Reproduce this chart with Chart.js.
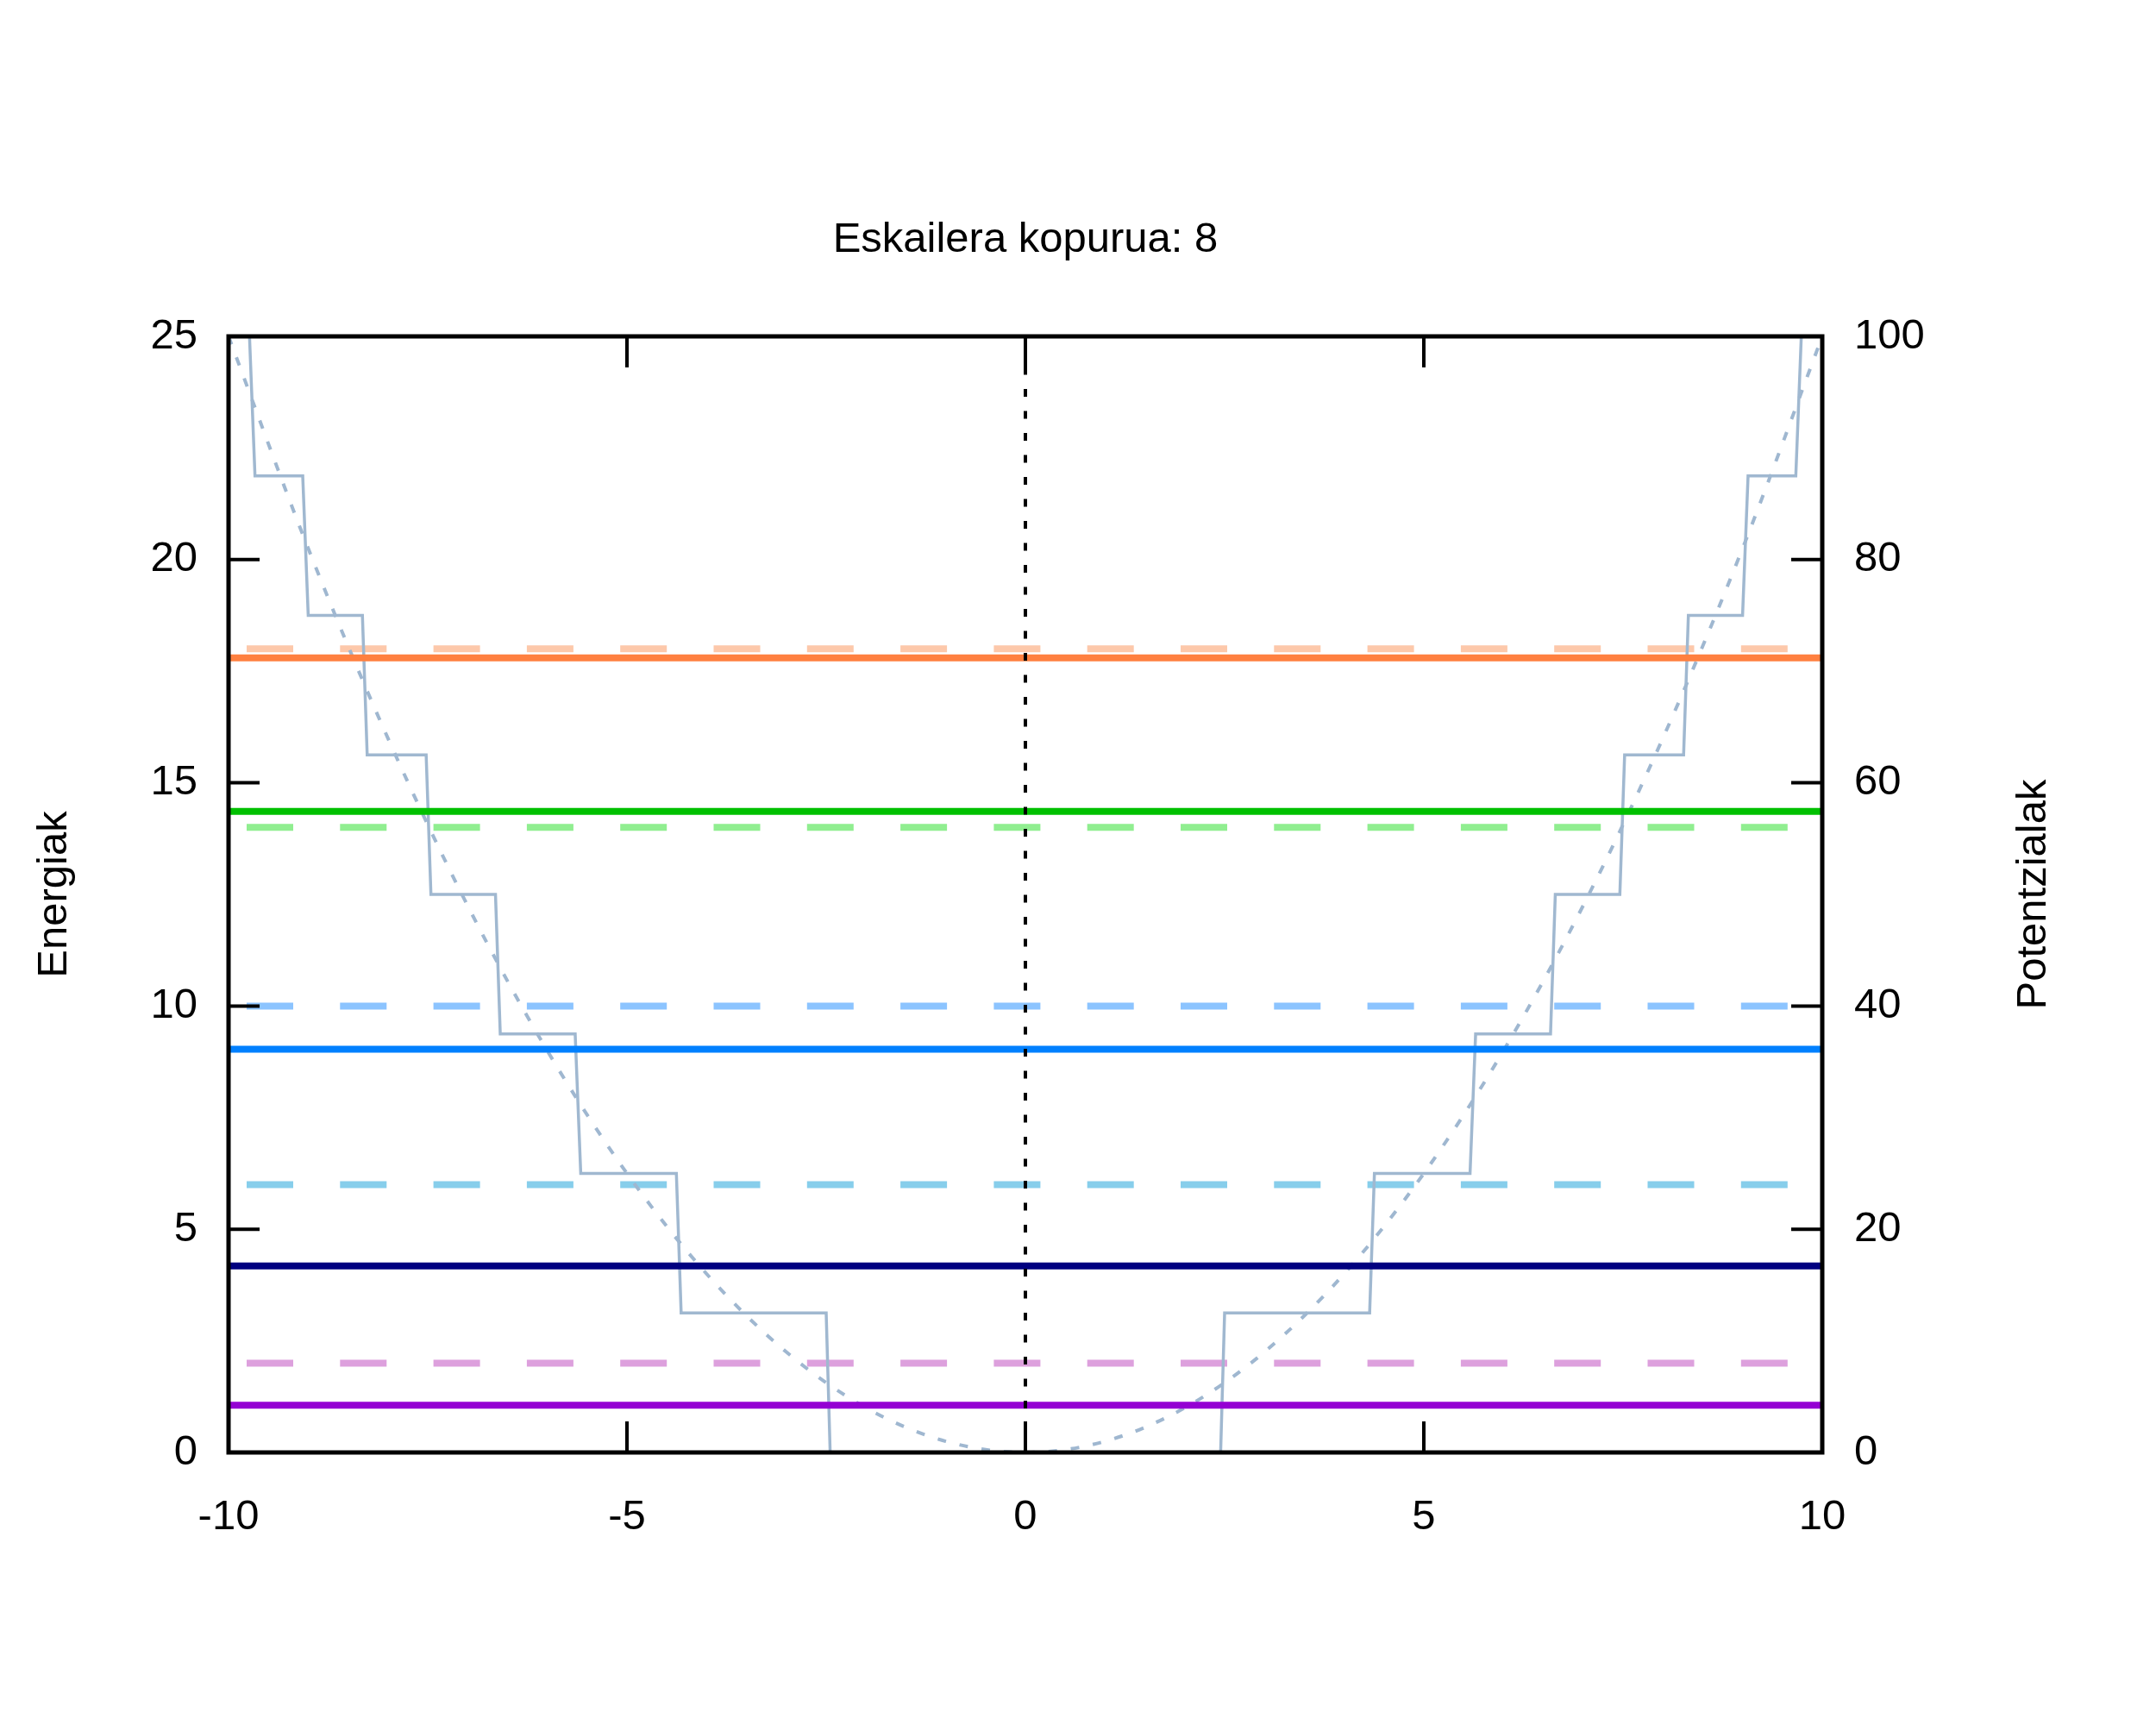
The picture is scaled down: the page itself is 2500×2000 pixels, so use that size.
<!DOCTYPE html>
<html>
<head>
<meta charset="utf-8">
<script src="https://cdn.jsdelivr.net/npm/chart.js@4.4.1/dist/chart.umd.min.js"></script>
<style>
  html, body { margin: 0; padding: 0; background: #ffffff; }
  #wrap { width: 2500px; height: 2000px; }
</style>
</head>
<body>
<div id="wrap"><canvas id="c" width="2500" height="2000"></canvas></div>
<script>
// ---- data ----
const titleText = 'Eskailera kopurua: 8';
const xTitle = '';
const yTitle = 'Energiak';
const y2Title = 'Potentzialak';

// numeric eigen-energies (solid lines)
const solidEnergies = [1.06, 4.18, 9.03, 14.36, 17.80];
const solidColors = ['#9400d3', '#000080', '#0080ff', '#00c000', '#ff8040'];
// analytic energies (dashed lines)
const dashedEnergies = [2, 6, 10, 14, 18];
const dashedColors = ['#dda0dd', '#87ceeb', '#8cc4ff', '#90ee90', '#fdc8aa'];

// staircase potential: levels and |x| where each higher level ends / lower level begins
const stairLevels = [100, 87.5, 75, 62.5, 50, 37.5, 25, 12.5, 0];
const stairEdgeHigh = [9.737, 9.069, 8.32, 7.52, 6.65, 5.65, 4.38, 2.50];
const stairEdgeLow  = [9.668, 9.00, 8.26, 7.46, 6.59, 5.58, 4.32, 2.45];

// smooth potential (dotted curve), read on the right axis
const potX = [-10, -9, -8, -7, -6, -5, -4, -3, -2, -1, 0, 1, 2, 3, 4, 5, 6, 7, 8, 9, 10];
const potY = [100, 81, 64, 49, 36, 25, 16, 9, 4, 1, 0, 1, 4, 9, 16, 25, 36, 49, 64, 81, 100];

const xTicks = [-10, -5, 0, 5, 10];
const yTicks = [0, 5, 10, 15, 20, 25];
const y2Ticks = [0, 20, 40, 60, 80, 100];

// ---- build datasets ----
const FONT = "'Liberation Sans', Arial, Helvetica, sans-serif";
Chart.defaults.font.family = FONT;
Chart.defaults.color = '#000000';

const stairPts = [{x: -10, y: stairLevels[0]}];
for (let i = 0; i < stairEdgeHigh.length; i++) {
  stairPts.push({x: -stairEdgeHigh[i], y: stairLevels[i]});
  stairPts.push({x: -stairEdgeLow[i], y: stairLevels[i + 1]});
}
for (let i = stairEdgeHigh.length - 1; i >= 0; i--) {
  stairPts.push({x: stairEdgeLow[i], y: stairLevels[i + 1]});
  stairPts.push({x: stairEdgeHigh[i], y: stairLevels[i]});
}
stairPts.push({x: 10, y: stairLevels[0]});

const potPts = potX.map((x, i) => ({x: x, y: potY[i]}));

const datasets = [];
// first in array = drawn on top
datasets.push({
  data: [{x: 0, y: 0}, {x: 0, y: 25}],
  borderColor: '#000000', borderWidth: 4, borderDash: [9, 16.5],
  yAxisID: 'y'
});
for (let i = solidEnergies.length - 1; i >= 0; i--) {
  datasets.push({
    data: [{x: -10, y: solidEnergies[i]}, {x: 10, y: solidEnergies[i]}],
    borderColor: solidColors[i], borderWidth: 8, yAxisID: 'y'
  });
}
datasets.push({
  data: potPts, borderColor: '#9fb7d0', borderWidth: 4, borderDash: [10, 16],
  cubicInterpolationMode: 'monotone', yAxisID: 'y2'
});
datasets.push({
  data: stairPts, borderColor: '#a0b8d0', borderWidth: 3.5, yAxisID: 'y2'
});
for (let i = dashedEnergies.length - 1; i >= 0; i--) {
  datasets.push({
    data: [{x: -10, y: dashedEnergies[i]}, {x: 10, y: dashedEnergies[i]}],
    borderColor: dashedColors[i], borderWidth: 8,
    borderDash: [54, 54.3], borderDashOffset: 87.3, yAxisID: 'y'
  });
}
datasets.forEach(d => { d.showLine = true; d.pointRadius = 0; d.pointHoverRadius = 0; d.fill = false; });

// ---- frame, inward ticks, right title ----
const framePlugin = {
  id: 'frame',
  afterDatasetsDraw(chart) {
    const ctx = chart.ctx, a = chart.chartArea;
    const sx = chart.scales.x, sy = chart.scales.y, sy2 = chart.scales.y2;
    const TL = 36;
    ctx.save();
    ctx.strokeStyle = '#000000';
    ctx.lineWidth = 4;
    ctx.beginPath();
    xTicks.forEach(v => {
      if (v === xTicks[0] || v === xTicks[xTicks.length - 1]) return;
      const p = sx.getPixelForValue(v);
      ctx.moveTo(p, a.bottom); ctx.lineTo(p, a.bottom - TL);
      ctx.moveTo(p, a.top); ctx.lineTo(p, a.top + TL);
    });
    yTicks.forEach(v => {
      if (v === yTicks[0] || v === yTicks[yTicks.length - 1]) return;
      const p = sy.getPixelForValue(v);
      ctx.moveTo(a.left, p); ctx.lineTo(a.left + TL, p);
    });
    y2Ticks.forEach(v => {
      if (v === y2Ticks[0] || v === y2Ticks[y2Ticks.length - 1]) return;
      const p = sy2.getPixelForValue(v);
      ctx.moveTo(a.right, p); ctx.lineTo(a.right - TL, p);
    });
    ctx.stroke();
    ctx.lineWidth = 5;
    ctx.strokeRect(a.left, a.top, a.right - a.left, a.bottom - a.top);
    ctx.restore();
  },
  afterDraw(chart) {
    const ctx = chart.ctx, a = chart.chartArea;
    ctx.save();
    ctx.fillStyle = '#000000';
    ctx.font = '49px ' + FONT;
    ctx.textAlign = 'center';
    ctx.textBaseline = 'middle';
    ctx.translate(2358, (a.top + a.bottom) / 2);
    ctx.rotate(-Math.PI / 2);
    ctx.fillText(y2Title, 0, 0);
    ctx.restore();
  }
};

new Chart(document.getElementById('c'), {
  type: 'scatter',
  data: { datasets: datasets },
  plugins: [framePlugin],
  options: {
    responsive: false,
    devicePixelRatio: 1,
    animation: false,
    events: [],
    layout: { padding: 0 },
    plugins: {
      legend: { display: false },
      tooltip: { enabled: false },
      title: {
        display: true, text: titleText, fullSize: false,
        color: '#000000',
        font: { size: 49, weight: 'normal', family: FONT },
        padding: { top: 248.6, bottom: 82.6 }
      }
    },
    scales: {
      x: {
        type: 'linear', position: 'bottom', min: -10, max: 10,
        afterBuildTicks: s => { s.ticks = xTicks.map(v => ({value: v})); },
        afterFit: s => { s.height = 316; },
        ticks: { font: { size: 49 }, color: '#000000', padding: 46.3, maxRotation: 0, autoSkip: false },
        grid: { display: false, drawTicks: false, drawOnChartArea: false },
        border: { display: false }
      },
      y: {
        type: 'linear', position: 'left', min: 0, max: 25,
        afterBuildTicks: s => { s.ticks = yTicks.map(v => ({value: v})); },
        afterFit: s => { s.width = 265; },
        ticks: { font: { size: 49 }, color: '#000000', padding: 36, autoSkip: false },
        grid: { display: false, drawTicks: false, drawOnChartArea: false },
        border: { display: false },
        title: { display: true, text: yTitle, color: '#000000', font: { size: 49 }, padding: { top: 33.6, bottom: 0 } }
      },
      y2: {
        type: 'linear', position: 'right', min: 0, max: 100,
        afterBuildTicks: s => { s.ticks = y2Ticks.map(v => ({value: v})); },
        afterFit: s => { s.width = 387; },
        ticks: { font: { size: 49 }, color: '#000000', padding: 37, autoSkip: false },
        grid: { display: false, drawTicks: false, drawOnChartArea: false },
        border: { display: false }
      }
    }
  }
});
</script>
</body>
</html>
